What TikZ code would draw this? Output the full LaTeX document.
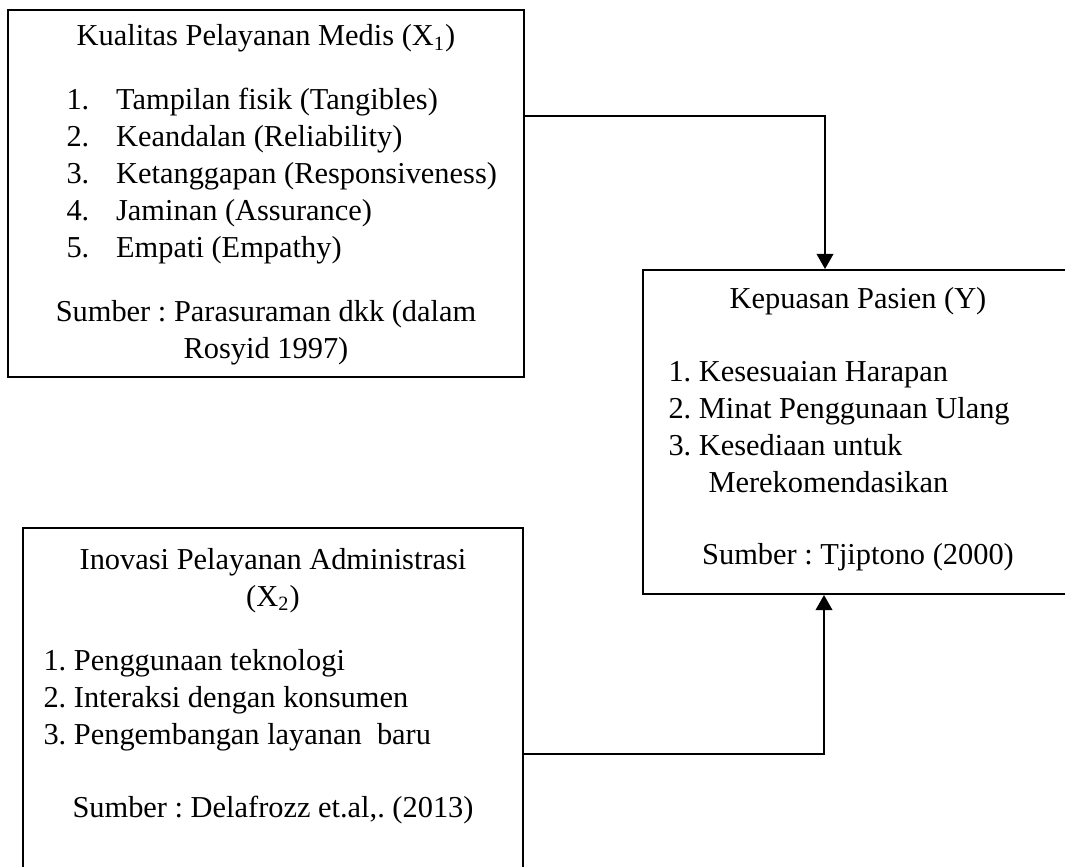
\documentclass[tikz,border=0pt]{standalone}
\usepackage{fontspec}
\setmainfont{Liberation Serif}
\usepackage{tikz}
\usetikzlibrary{arrows.meta,positioning,fit}
\frenchspacing

\begin{document}
\begin{tikzpicture}[
  x=0.3947pt, y=-0.3947pt,
  kotak/.style={draw=black, line width=0.8pt, inner sep=0pt},
  judul/.style={inner sep=0pt, anchor=base, font=\fontsize{12pt}{14.6pt}\selectfont},
  daftar/.style={inner sep=0pt, anchor=base west, align=left,
    font=\fontsize{12pt}{14.6pt}\selectfont},
  sumber/.style={inner sep=0pt, anchor=base, align=center,
    font=\fontsize{12pt}{14.6pt}\selectfont},
  panah/.style={-{Triangle[length=6pt,width=6.6pt]}, line width=0.8pt}
]
  \useasboundingbox (0,0) rectangle (1065,866);
  \clip (0,0) rectangle (1065,866);

  % kotak variabel
  \node[kotak, fit={(8,10) (524,377)}] (medis) {};
  \node[kotak, fit={(643,270) (1073,594)}] (kepuasan) {};
  \node[kotak, fit={(23,528) (523,900)}] (inovasi) {};

  % isi X1 (base = baris terakhir)
  \node[judul] (medisJudul) at (266,46) {Kualitas Pelayanan Medis (X\textsubscript{1})};
  \node[daftar] (medisDaftar) at (66,257)
    {1.\hspace{10.6pt}Tampilan fisik (Tangibles)\\
     2.\hspace{10.6pt}Keandalan (Reliability)\\
     3.\hspace{10.6pt}Ketanggapan (Responsiveness)\\
     4.\hspace{10.6pt}Jaminan (Assurance)\\
     5.\hspace{10.6pt}Empati (Empathy)};
  \node[sumber] (medisSumber) at (266,358)
    {Sumber : Parasuraman dkk (dalam\\Rosyid 1997)};

  % isi Y
  \node[judul] (kepuasanJudul) at (858,308) {Kepuasan Pasien (Y)};
  \node[daftar] (kepuasanDaftar) at (668,492)
    {1. Kesesuaian Harapan\\
     2. Minat Penggunaan Ulang\\
     3. Kesediaan untuk\\
     \hspace*{15.8pt}Merekomendasikan};
  \node[sumber] (kepuasanSumber) at (858,564) {Sumber : Tjiptono (2000)};

  % isi X2
  \node[sumber] (inovasiJudul) at (273,606)
    {Inovasi Pelayanan Administrasi\\(X\textsubscript{2})};
  \node[daftar] (inovasiDaftar) at (43,744)
    {1. Penggunaan teknologi\\
     2. Interaksi dengan konsumen\\
     3. Pengembangan layanan~ baru};
  \node[sumber] (inovasiSumber) at (273,817) {Sumber : Delafrozz et.al,. (2013)};

  % panah
  \coordinate (belokAtas) at (825,116);
  \coordinate (belokBawah) at (824,754);
  \draw[panah] (medis.east |- belokAtas) -- (belokAtas) -- (kepuasan.north -| belokAtas);
  \draw[panah] (inovasi.east |- belokBawah) -- (belokBawah) -- (kepuasan.south -| belokBawah);
\end{tikzpicture}
\end{document}
